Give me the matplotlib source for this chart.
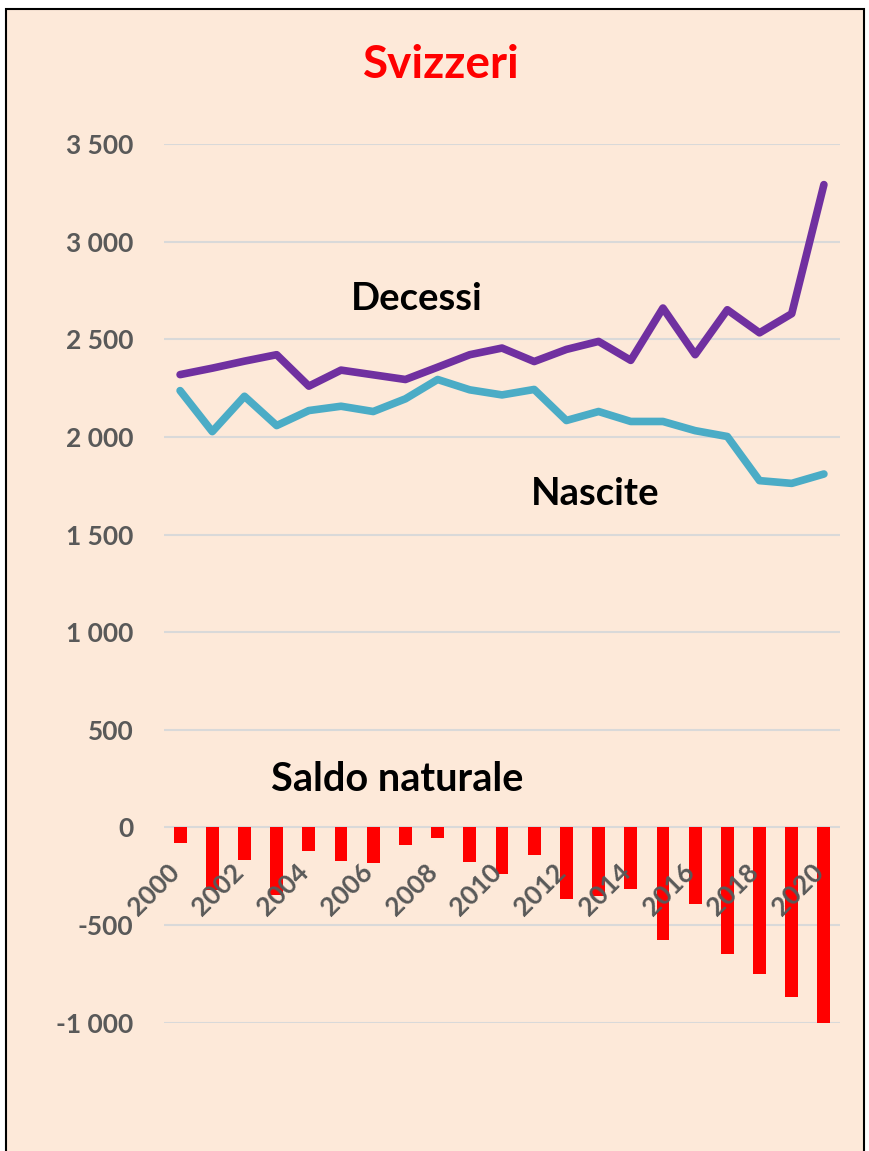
import matplotlib
matplotlib.use("Agg")
import matplotlib.pyplot as plt
from matplotlib.patches import Rectangle
import matplotlib.transforms as mtransforms

years = list(range(2000, 2021))
decessi = [2319, 2352, 2388, 2421, 2260, 2342, 2318, 2294, 2357, 2421, 2455,
           2386, 2448, 2489, 2392, 2660, 2421, 2651, 2533, 2631, 3292]
nascite = [2237, 2027, 2208, 2058, 2135, 2157, 2130, 2195, 2294, 2241, 2215,
           2243, 2084, 2130, 2079, 2079, 2032, 2002, 1776, 1762, 1810]
saldo = [-78, -320, -169, -348, -123, -173, -184, -92, -56, -176, -237,
         -142, -365, -352, -317, -579, -392, -646, -753, -866, -1482]
yticks = [-1000, -500, 0, 500, 1000, 1500, 2000, 2500, 3000, 3500]
xtick_years = list(range(2000, 2021, 2))

BG = "#FDE9D9"
GRAY = "#595959"
FONT = "Lato"

fig = plt.figure(figsize=(8.69, 11.51), dpi=100)
fig.patch.set_facecolor("white")
W, H = 869, 1151
# chart area with border (top, left, right)
fig.patches.append(Rectangle((6 / W, -0.01), (864 - 6) / W, (H - 9) / H + 0.01,
                             transform=fig.transFigure, facecolor=BG,
                             edgecolor="black", linewidth=1.5, zorder=-10))

ax = fig.add_axes([164 / W, 1 - 1022.7 / H, (840 - 164) / W, (1022.7 - 144) / H])
ax.set_facecolor("none")
ax.spines["bottom"].set_position(("data", 0))
x = list(range(len(years)))

for v in yticks:
    ax.axhline(v, color="#D9D9D9", linewidth=1.5, zorder=0.5)

ax.bar(x, saldo, width=0.4, color="#FF0000", zorder=1)
ax.plot(x, decessi, color="#7030A0", linewidth=5.5, solid_capstyle="round",
        solid_joinstyle="round", zorder=2)
ax.plot(x, nascite, color="#4BACC6", linewidth=5.5, solid_capstyle="round",
        solid_joinstyle="round", zorder=2)

ax.set_xlim(-0.5, len(years) - 0.5)
ax.set_ylim(-1000, 3500)

ax.set_yticks(yticks)
ax.set_yticklabels([f"{v:,}".replace(",", " ") for v in yticks],
                   fontfamily=FONT, fontweight="bold", fontsize=19, color=GRAY)
ax.tick_params(axis="y", length=0, pad=22)

xt = [years.index(y) for y in xtick_years]
ax.set_xticks(xt)
ax.tick_params(axis="x", length=0, pad=23)
ax.set_xticklabels([str(y) for y in xtick_years], rotation=45, ha="right",
                   va="top", fontfamily=FONT, fontweight="bold", fontsize=19,
                   color=GRAY)
shift = mtransforms.ScaledTranslation(4 / 100, 0, fig.dpi_scale_trans)
for lab in ax.get_xticklabels():
    lab.set_transform(lab.get_transform() + shift)

for s in ax.spines.values():
    s.set_visible(False)

ax.text(7.34, 2708, "Decessi", fontfamily=FONT, fontweight="bold", fontsize=27.5,
        color="black", ha="center", va="center")
ax.text(12.9, 1708, "Nascite", fontfamily=FONT, fontweight="bold", fontsize=27.5,
        color="black", ha="center", va="center")
ax.text(6.73, 246, "Saldo naturale", fontfamily=FONT, fontweight="bold", fontsize=28.5,
        color="black", ha="center", va="center")

fig.text(441 / W, 1 - 65 / H, "Svizzeri", fontfamily=FONT, fontweight="bold",
         fontsize=33, color="#FF0000", ha="center", va="center")

fig.savefig("out.png", dpi=100, facecolor=fig.get_facecolor())
